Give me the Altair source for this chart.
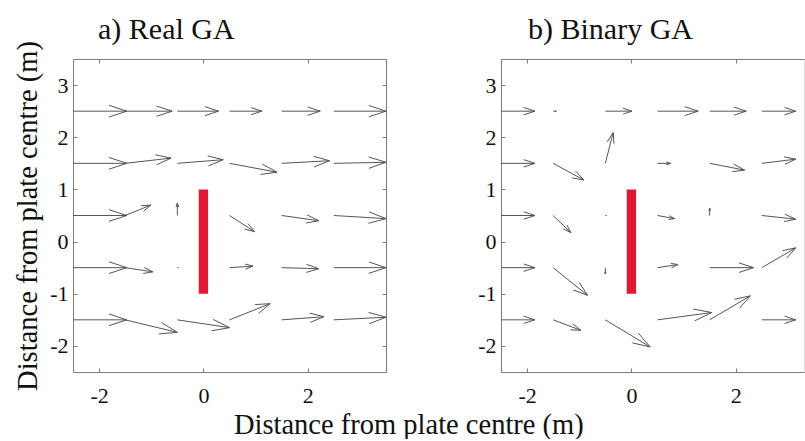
import altair as alt
import pandas as pd

# Grid of arrow tails (m)
X_TAILS = [-2.5, -1.5, -0.5, 0.5, 1.5, 2.5]
Y_TAILS = [2.5, 1.5, 0.5, -0.5, -1.5]

# Velocity components per row (top row first), real-coded GA
REAL_U = [
    [1.03, 0.90, 0.79, 0.62, 0.74, 1.00],
    [1.03, 0.88, 0.88, 0.91, 0.92, 1.00],
    [1.03, 0.49, 0.00, 0.48, 0.71, 1.00],
    [1.03, 0.53, 0.02, 0.45, 0.71, 1.00],
    [1.03, 1.00, 1.00, 0.78, 0.81, 1.00],
]
REAL_V = [
    [0.00, 0.00, 0.00, 0.00, 0.00, 0.00],
    [0.00, 0.10, 0.07, -0.17, 0.05, 0.02],
    [0.00, 0.20, 0.24, -0.31, -0.10, -0.06],
    [0.00, -0.08, 0.00, 0.03, -0.02, 0.00],
    [0.00, -0.24, -0.15, 0.31, 0.06, 0.05],
]

# Velocity components per row (top row first), binary-coded GA
BINARY_U = [
    [0.65, 0.06, 0.51, 0.78, 0.70, 0.65],
    [0.65, 0.59, 0.15, 0.25, 0.67, 0.65],
    [0.65, 0.34, 0.02, 0.33, 0.00, 0.65],
    [0.65, 0.66, 0.00, 0.39, 0.84, 0.65],
    [0.65, 0.53, 0.86, 1.04, 0.78, 0.65],
]
BINARY_V = [
    [0.00, 0.00, 0.00, 0.00, 0.00, 0.00],
    [0.00, -0.32, 0.59, 0.00, -0.13, 0.08],
    [0.00, -0.33, 0.00, -0.06, 0.14, -0.07],
    [0.00, -0.53, -0.12, 0.06, 0.00, 0.38],
    [0.00, -0.20, -0.52, 0.14, 0.46, 0.00],
]

# The plate (m)
PLATE_X = [-0.09, 0.09]
PLATE_Y = [-1.0, 1.0]

X_TICKS = [-2, 0, 2]
Y_TICKS = [-2, -1, 0, 1, 2, 3]

# quiver-style open arrowheads, relative to vector length
HEAD_LEN = 0.33
HEAD_WIDTH = 0.33

FONT = "Liberation Serif"
FRAME = "#7d7d7d"
ARROW = "#555555"
PLATE = "#dd1a36"
PX_PER_M = 313 / 6.0


def arrow_segments(u_rows, v_rows):
    rows = []
    for j, y in enumerate(Y_TAILS):
        for i, x in enumerate(X_TAILS):
            u, v = u_rows[j][i], v_rows[j][i]
            tx, ty = x + u, y + v
            rows.append({"x": x, "y": y, "x2": tx, "y2": ty})
            rows.append({"x": tx - HEAD_LEN * (u + HEAD_WIDTH * v),
                         "y": ty - HEAD_LEN * (v - HEAD_WIDTH * u),
                         "x2": tx, "y2": ty})
            rows.append({"x": tx - HEAD_LEN * (u - HEAD_WIDTH * v),
                         "y": ty - HEAD_LEN * (v + HEAD_WIDTH * u),
                         "x2": tx, "y2": ty})
    return pd.DataFrame(rows)


def make_axis(orient, values, labels=True, pad=8, title=None):
    kw = dict(
        orient=orient, values=values, labels=labels, grid=False,
        domainColor=FRAME, domainWidth=1, tickColor=FRAME, tickWidth=1,
        tickSize=alt.ExprRef(expr="-4"),
        labelPadding=pad, labelFontSize=22, labelColor="#111111",
        labelFont=FONT, labelFlush=False, labelOverlap=False,
        labelExpr="'' + datum.value",
    )
    if title:
        kw.update(title=title, titleFontSize=28.5, titleFont=FONT,
                  titleFontWeight="normal", titleColor="#111111", titlePadding=7)
    else:
        kw.update(title=None)
    return alt.Axis(**kw)


def panel(u_rows, v_rows, title, title_dx, title_offset, width, right_edge, y_title):
    xmax = -2.5 + width / PX_PER_M
    xs = alt.Scale(domain=[-2.5, xmax], nice=False, zero=False)
    ys = alt.Scale(domain=[-2.5, 3.5], nice=False, zero=False)

    arrows = alt.Chart(arrow_segments(u_rows, v_rows)).mark_rule(
        color=ARROW, strokeWidth=1
    ).encode(
        x=alt.X("x:Q", scale=xs, axis=make_axis("bottom", X_TICKS, pad=17)),
        y=alt.Y("y:Q", scale=ys, axis=make_axis("left", Y_TICKS, pad=9, title=y_title)),
        x2="x2:Q",
        y2="y2:Q",
    )

    plate_df = pd.DataFrame({"x0": [PLATE_X[0]], "x1": [PLATE_X[1]],
                             "y0": [PLATE_Y[0]], "y1": [PLATE_Y[1]]})
    plate = alt.Chart(plate_df).mark_rect(color=PLATE).encode(
        x=alt.X("x0:Q", scale=xs, axis=make_axis("top", X_TICKS, labels=False)),
        x2="x1:Q",
        y=alt.Y("y0:Q", scale=ys,
                axis=make_axis("right", Y_TICKS, labels=False) if right_edge else None),
        y2="y1:Q",
    )

    return alt.layer(plate, arrows).resolve_axis(
        x="independent", y="independent"
    ).properties(
        width=width, height=313,
        title=alt.TitleParams(title, anchor="start", frame="group", dx=title_dx,
                              fontSize=30, font=FONT, fontWeight="normal",
                              color="#111111", offset=title_offset),
    )


# the rotated y title reaches above the left plot, so that panel's title sits closer
left = panel(REAL_U, REAL_V, "a) Real GA", 25, -4, 313, True,
             "Distance from plate centre (m)")
right = panel(BINARY_U, BINARY_V, "b) Binary GA", 27, 14, 303, False, None)

chart = alt.hconcat(left, right, spacing=90).properties(
    title=alt.TitleParams("Distance from plate centre (m)", orient="bottom",
                          anchor="middle", fontSize=28.5, font=FONT,
                          fontWeight="normal", color="#111111", offset=4),
    padding={"left": 13, "top": 14, "right": 0, "bottom": 0},
).configure_view(stroke=None).configure(font=FONT, background="white")

chart.save("out.html", embed_options={"renderer": "svg", "actions": False})
